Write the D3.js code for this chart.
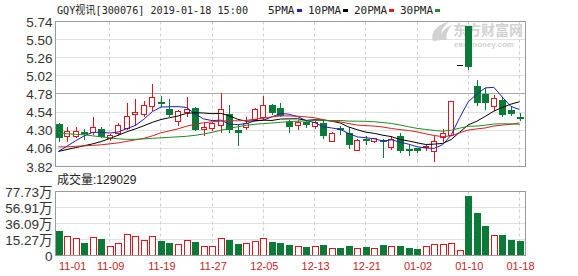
<!DOCTYPE html>
<html>
<head>
<meta charset="utf-8">
<script src="https://cdn.jsdelivr.net/npm/d3@7"></script>
<style>
  body { margin: 0; background: #fff; }
  svg { display: block; }
</style>
</head>
<body>
<svg id="svg-graphic" width="578" height="276"></svg>
<script>
/////////////////////////////////////////////////////////////////////////////////////
// Data
var dates = ["11-01","11-02","11-05","11-06","11-07","11-08","11-09","11-12","11-13","11-14",
             "11-15","11-16","11-19","11-20","11-21","11-22","11-23","11-26","11-27","11-28",
             "11-29","11-30","12-03","12-04","12-05","12-06","12-07","12-10","12-11","12-12",
             "12-13","12-14","12-17","12-18","12-19","12-20","12-21","12-24","12-25","12-26",
             "12-27","12-28","01-02","01-03","01-04","01-07","01-08","01-09","01-10","01-11",
             "01-14","01-15","01-16","01-17","01-18"];
var openP  = [4.385,4.22,4.23,4.28,4.26,4.315,4.18,4.25,4.315,4.51,
              4.505,4.615,4.68,4.575,4.42,4.53,4.595,4.30,4.32,4.37,
              4.52,4.30,4.34,4.44,4.465,4.64,4.595,4.41,4.36,4.41,
              4.35,4.39,4.16,4.33,4.26,4.04,4.185,4.15,4.175,4.08,
              4.22,4.05,4.06,4.07,4.02,4.21,4.24,5.16,5.676,4.89,
              4.785,4.61,4.705,4.57,4.475];
var highP  = [4.39,4.34,4.34,4.32,4.47,4.34,4.25,4.395,4.66,4.71,
              4.69,4.91,4.76,4.71,4.57,4.74,4.61,4.39,4.41,4.79,
              4.64,4.375,4.48,4.60,4.76,4.65,4.66,4.44,4.44,4.44,
              4.44,4.44,4.28,4.35,4.34,4.18,4.22,4.20,4.19,4.22,
              4.26,4.11,4.07,4.12,4.22,4.315,4.69,5.16,5.676,4.97,
              4.86,4.77,4.74,4.625,4.53];
var lowP   = [4.15,4.15,4.20,4.17,4.24,4.20,4.16,4.22,4.30,4.35,
              4.48,4.55,4.61,4.48,4.36,4.47,4.29,4.22,4.29,4.27,
              4.26,4.085,4.30,4.42,4.44,4.50,4.47,4.27,4.30,4.33,
              4.32,4.18,4.14,4.24,4.05,4.02,4.10,4.13,3.93,4.04,
              3.995,3.96,4.00,4.02,3.885,4.15,4.24,5.16,5.10,4.62,
              4.57,4.56,4.475,4.485,4.42];
var closeP = [4.20,4.28,4.29,4.26,4.33,4.21,4.225,4.36,4.48,4.54,
              4.625,4.735,4.655,4.50,4.55,4.57,4.30,4.33,4.39,4.58,
              4.31,4.265,4.395,4.57,4.625,4.53,4.49,4.35,4.405,4.365,
              4.40,4.22,4.26,4.31,4.10,4.17,4.165,4.19,4.16,4.18,
              4.02,4.03,4.015,4.085,4.15,4.26,4.685,5.16,5.13,4.66,
              4.67,4.72,4.505,4.52,4.46];
// volume, in 万 (10k lots)
var volume = [26.1,20.1,16.6,10.1,18.8,15.3,6.6,10.1,21.8,19.2,
              14.0,19.2,13.1,10.1,9.7,14.9,11.4,6.2,6.2,16.6,
              14.0,8.8,10.5,12.7,16.6,11.8,10.1,8.4,6.6,5.3,
              7.1,7.9,3.6,3.6,6.6,4.5,5.3,3.6,7.9,6.6,
              6.6,3.6,2.3,6.6,8.8,9.7,10.5,1.9,72.5,50.0,
              32.2,20.5,20.5,14.0,12.9];

// moving-average values before each window is full (the earlier closes are off the chart)
var ma5Head  = [4.02,4.09,4.16,4.225];
var ma10Head = [4.02,4.045,4.07,4.095,4.12,4.15,4.19,4.235,4.28];
var ma20Head = [4.08,4.08,4.087,4.093,4.10,4.107,4.12,4.133,4.153,4.173,
                4.193,4.226,4.266,4.292,4.319,4.353,4.379,4.399,4.412];
var ma30Head = [4.266,4.253,4.246,4.24,4.226,4.213,4.20,4.186,4.18,4.18,
                4.186,4.193,4.20,4.206,4.213,4.22,4.233,4.25,4.273,4.299,
                4.326,4.346,4.366,4.379,4.388,4.396,4.405,4.415,4.42];

var priceTicks = [5.74,5.50,5.26,5.02,4.78,4.54,4.30,4.06,3.82];
var volTicks   = [77.73,56.91,36.09,15.27];
var dateTicks  = ["11-01","11-09","11-19","11-27","12-05","12-13","12-21","01-02","01-10","01-18"];
var maNames    = ["5PMA","10PMA","20PMA","30PMA"];
var maColors   = ["#1f1fb4","#000000","#d42020","#238a23"];

var title  = "GQY视讯[300076] 2019-01-18 15:00";
var volTitle = "成交量:" + 129029;

/////////////////////////////////////////////////////////////////////////////////////
// Layout
var svg = d3.select("#svg-graphic");
var plotL = 55.5, plotR = 525.5;
var price = {top: 21.5, bottom: 166.5};
var vol = {top: 191.5, bottom: 255.5};
var red = "#e0141c", green = "#0b7a36";
var labelFont = "'Liberation Sans', Arial, 'Noto Sans CJK SC', sans-serif";
var monoFont = "'DejaVu Sans Mono', 'Liberation Mono', 'Noto Sans CJK SC', monospace";

svg.append("rect").attr("width", 578).attr("height", 276).attr("fill", "#fff");

/////////////////////////////////////////////////////////////////////////////////////
// Scales
var xScale = d3.scalePoint().domain(dates).range([58.5, 519.5]);
var yPrice = d3.scaleLinear().domain([3.82, 5.74]).range([price.bottom, price.top]);
var volStep = volTicks[0] - volTicks[1];
var volFloor = volTicks[0] - 4 * volStep;   // bottom gridline is labelled "0"
var yVol = d3.scaleLinear().domain([volFloor, volTicks[0]]).range([vol.bottom, vol.top]);

function crisp(v) { return Math.round(v - 0.5) + 0.5; }

function movingAvg(n, head) {
  return closeP.map(function(c, i) {
    if (i < n - 1) return head[i];
    return d3.mean(closeP.slice(i - n + 1, i + 1));
  });
}
var maSeries = [movingAvg(5, ma5Head), movingAvg(10, ma10Head),
                movingAvg(20, ma20Head), movingAvg(30, ma30Head)];

/////////////////////////////////////////////////////////////////////////////////////
// Grid and frames
var grid = svg.append("g");

grid.selectAll(".pgrid")
    .data(priceTicks.slice(1, -1))
    .enter().append("line")
    .attr("x1", plotL).attr("x2", plotR)
    .attr("y1", function(d) { return crisp(yPrice(d)); })
    .attr("y2", function(d) { return crisp(yPrice(d)); })
    .attr("stroke", function(d) { return d === 4.78 ? "#a8a8a8" : "#e2e2e2"; });

grid.selectAll(".vgrid")
    .data(volTicks.slice(1))
    .enter().append("line")
    .attr("x1", plotL).attr("x2", plotR)
    .attr("y1", function(d) { return crisp(yVol(d)); })
    .attr("y2", function(d) { return crisp(yVol(d)); })
    .attr("stroke", "#e2e2e2");

[price, vol].forEach(function(pane) {
  grid.selectAll(null)
      .data(dateTicks.slice(1))
      .enter().append("line")
      .attr("x1", function(d) { return crisp(xScale(d)); })
      .attr("x2", function(d) { return crisp(xScale(d)); })
      .attr("y1", pane.top).attr("y2", pane.bottom)
      .attr("stroke", "#cfcfcf")
      .attr("stroke-dasharray", "3,3");
});

// watermark
var wm = svg.append("g").attr("fill", "#d2d2d2");
wm.append("path")
  .attr("d", "M433,41 C430,33 437,24 449,22 C442,27 440,33 442,40 Z M441,40 C440,33 444,28 452,25 C447,30 446,35 447,40 Z");
wm.append("text").attr("x", 453).attr("y", 35)
  .style("font-family", "'Noto Sans CJK SC', sans-serif").style("font-size", "14px").style("font-weight", "bold")
  .text("东方财富网");
wm.append("text").attr("x", 454).attr("y", 46.5)
  .style("font-family", labelFont).style("font-size", "8px").style("font-weight", "bold")
  .text("eastmoney.com");

/////////////////////////////////////////////////////////////////////////////////////
// Candles
var idx = d3.range(dates.length);
var candles = svg.append("g").attr("shape-rendering", "crispEdges");

idx.forEach(function(i) {
  var cx = Math.round(xScale(dates[i]));
  var o = openP[i], c = closeP[i];
  var yTop = yPrice(Math.max(o, c)), yBot = yPrice(Math.min(o, c));
  if (o === c && highP[i] === lowP[i]) {
    candles.append("line")
      .attr("x1", cx - 3).attr("x2", cx + 3)
      .attr("y1", crisp(yTop)).attr("y2", crisp(yTop))
      .attr("stroke", "#111");
    return;
  }
  if (c >= o) {
    candles.append("line").attr("x1", cx + 0.5).attr("x2", cx + 0.5)
      .attr("y1", yPrice(highP[i])).attr("y2", yTop).attr("stroke", red);
    candles.append("line").attr("x1", cx + 0.5).attr("x2", cx + 0.5)
      .attr("y1", yBot).attr("y2", yPrice(lowP[i])).attr("stroke", red);
    candles.append("rect")
      .attr("x", cx - 2.5).attr("y", crisp(yTop))
      .attr("width", 5).attr("height", Math.max(1, Math.round(yBot - yTop)))
      .attr("fill", "#fff").attr("stroke", red);
  } else {
    candles.append("line").attr("x1", cx + 0.5).attr("x2", cx + 0.5)
      .attr("y1", yPrice(highP[i])).attr("y2", yPrice(lowP[i])).attr("stroke", green);
    candles.append("rect")
      .attr("x", cx - 3).attr("y", Math.round(yTop))
      .attr("width", 7).attr("height", Math.max(1.5, Math.round(yBot - yTop)))
      .attr("fill", green);
  }
});

// moving averages
var maLine = d3.line()
  .x(function(d, i) { return xScale(dates[i]); })
  .y(function(d) { return yPrice(d); });

svg.selectAll(".maLine")
   .data(maSeries)
   .enter().append("path")
   .attr("class", "maLine")
   .attr("d", maLine)
   .attr("fill", "none")
   .attr("stroke", function(d, k) { return maColors[k]; })
   .attr("stroke-width", 1);

/////////////////////////////////////////////////////////////////////////////////////
// Volume bars
var bars = svg.append("g").attr("shape-rendering", "crispEdges");
idx.forEach(function(i) {
  var cx = Math.round(xScale(dates[i]));
  var up = closeP[i] >= openP[i];
  var y = Math.round(yVol(volume[i]));
  if (up) {
    bars.append("rect")
      .attr("x", cx - 2.5).attr("y", y + 0.5)
      .attr("width", 6).attr("height", vol.bottom - y - 0.5)
      .attr("fill", "#fff").attr("stroke", red);
  } else {
    bars.append("rect")
      .attr("x", cx - 3).attr("y", y)
      .attr("width", 7).attr("height", vol.bottom - y)
      .attr("fill", green);
  }
});

// frames on top
[price, vol].forEach(function(pane) {
  svg.append("rect")
     .attr("x", plotL).attr("y", pane.top)
     .attr("width", plotR - plotL).attr("height", pane.bottom - pane.top)
     .attr("fill", "none").attr("stroke", "#9a9a9a");
});

/////////////////////////////////////////////////////////////////////////////////////
// Text
svg.selectAll(".pLabel")
   .data(priceTicks)
   .enter().append("text")
   .attr("x", 52.5)
   .attr("y", function(d) { return yPrice(d) + 5; })
   .attr("text-anchor", "end")
   .style("font-family", labelFont).style("font-size", "13.5px").style("fill", "#333")
   .text(function(d) { return d.toFixed(2); });

svg.selectAll(".vLabel")
   .data(volTicks.concat([volFloor]))
   .enter().append("text")
   .attr("x", 52.5)
   .attr("y", function(d) { return yVol(d) + 5; })
   .attr("text-anchor", "end")
   .style("font-family", labelFont).style("font-size", "13.5px").style("fill", "#333")
   .text(function(d) { return d === volFloor ? "0" : d.toFixed(2) + "万"; });

svg.selectAll(".dLabel")
   .data(dateTicks)
   .enter().append("text")
   .attr("x", function(d, i) { return i === 0 ? xScale(d) + 0.5 : xScale(d) + 1; })
   .attr("y", 270)
   .attr("text-anchor", function(d, i) { return i === 0 ? "start" : "middle"; })
   .style("font-family", labelFont).style("font-size", "11px").style("fill", "#c81e1e")
   .text(function(d) { return d; });

svg.append("text")
   .attr("x", 57).attr("y", 14)
   .attr("textLength", 191).attr("lengthAdjust", "spacingAndGlyphs")
   .style("font-family", monoFont).style("font-size", "11px").style("fill", "#222")
   .text(title);

svg.append("text")
   .attr("x", 57).attr("y", 184)
   .style("font-family", labelFont).style("font-size", "12px").style("fill", "#222")
   .text(volTitle);

// legend
var lx = 268;
maNames.forEach(function(name, k) {
  var t = svg.append("text")
     .attr("x", lx).attr("y", 14)
     .style("font-family", monoFont).style("font-size", "11px").style("fill", "#222")
     .text(name);
  var w = t.node().getComputedTextLength();
  svg.append("rect")
     .attr("x", Math.round(lx + w + 2)).attr("y", 9)
     .attr("width", 5).attr("height", 3)
     .attr("fill", maColors[k]);
  lx = Math.round(lx + w + 2) + 5 + 6;
});
</script>
</body>
</html>
